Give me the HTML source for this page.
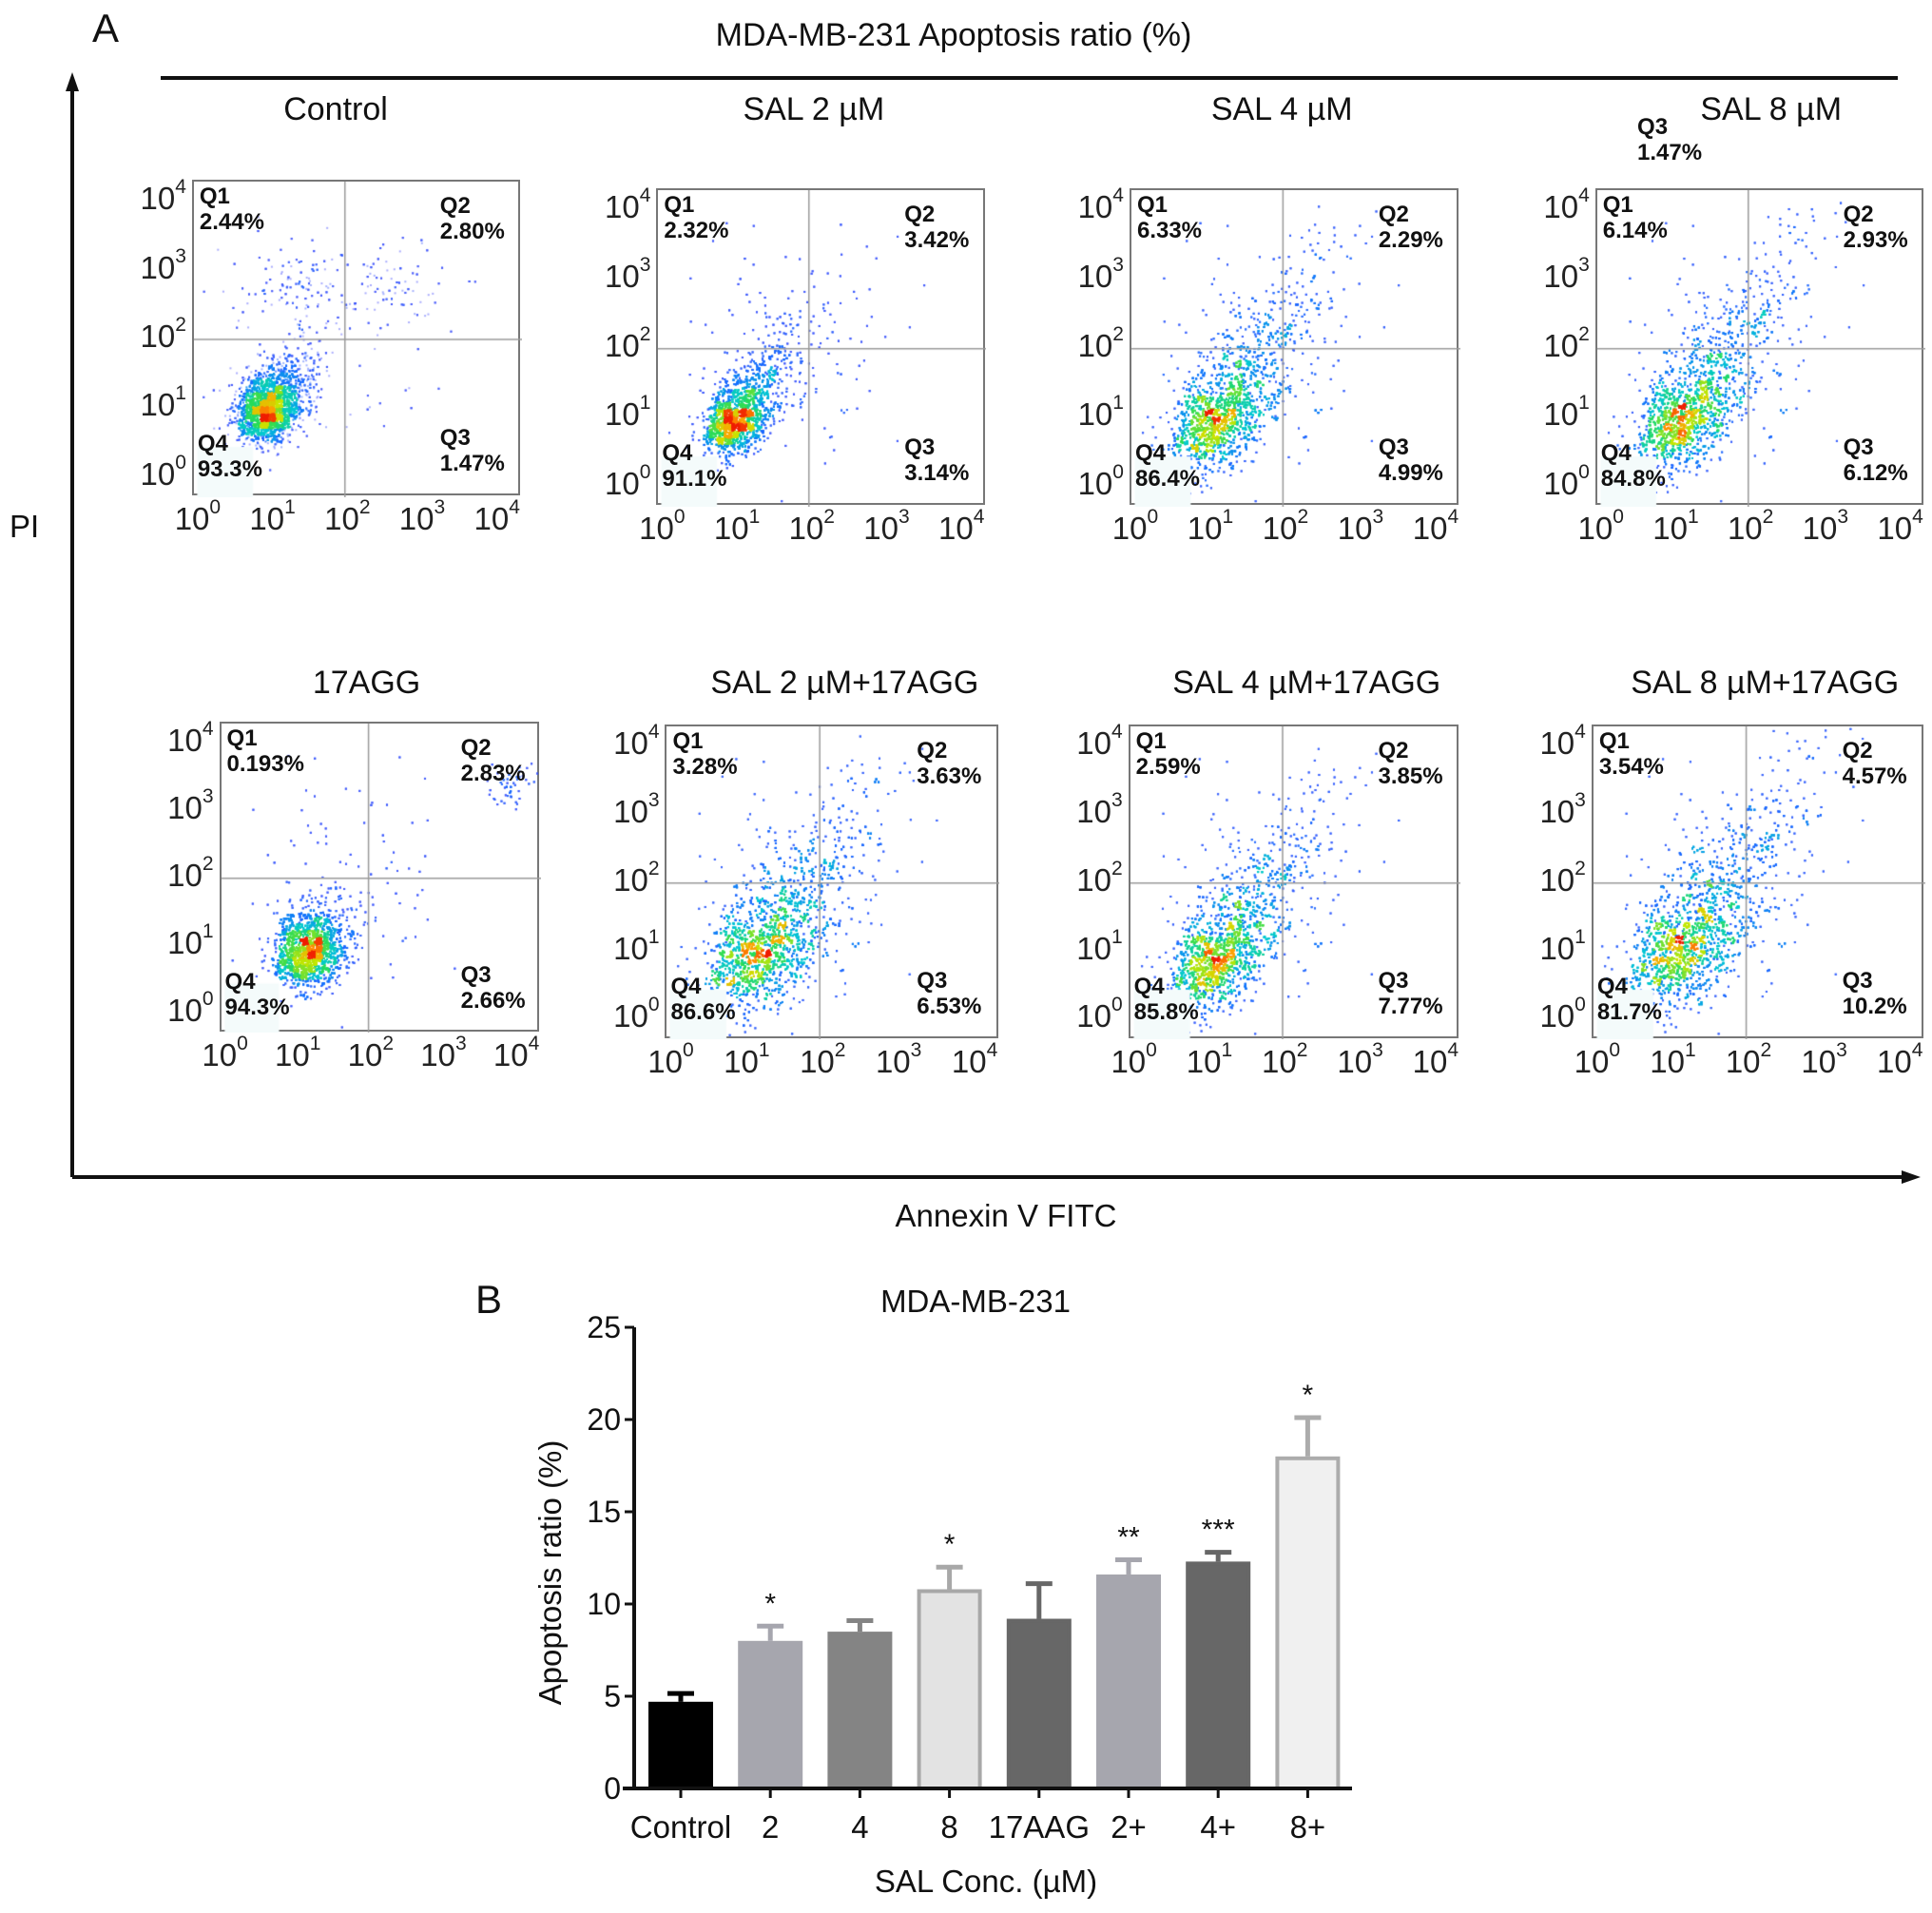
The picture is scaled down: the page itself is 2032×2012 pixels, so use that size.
<!DOCTYPE html>
<html><head><meta charset="utf-8">
<style>
html,body{margin:0;padding:0;background:#fff;}
#root{position:relative;width:2032px;height:2012px;overflow:hidden;font-family:"Liberation Sans",sans-serif;color:#111;}
.t{position:absolute;white-space:nowrap;}
.ql{position:absolute;font-weight:bold;font-size:24px;line-height:27px;color:#111;white-space:nowrap;}
.tk{position:absolute;font-size:33px;white-space:nowrap;color:#222;}
.tk sup{font-size:21px;vertical-align:top;position:relative;top:-5px;}
</style></head><body>
<div id="root">
<div class="t" style="left:97px;top:6px;font-size:42px;">A</div>
<div class="t" style="left:1003px;top:18px;font-size:34px;transform:translateX(-50%);">MDA-MB-231 Apoptosis ratio (%)</div>
<div style="position:absolute;left:169px;top:80px;width:1827px;height:4px;background:#111;"></div>
<svg width="2032" height="1300" style="position:absolute;left:0;top:0">
 <line x1="76" y1="1238" x2="76" y2="90" stroke="#111" stroke-width="4"/>
 <polygon points="76,76 69,96 83,96" fill="#111"/>
 <line x1="76" y1="1238" x2="2005" y2="1238" stroke="#111" stroke-width="4"/>
 <polygon points="2020,1238 2000,1231 2000,1245" fill="#111"/>
</svg>
<div class="t" style="left:10px;top:535px;font-size:33px;">PI</div>
<div class="t" style="left:1058px;top:1260px;font-size:33px;transform:translateX(-50%);">Annexin V FITC</div>

<div class="t" style="left:500px;top:1343px;font-size:42px;">B</div>
<div class="t" style="left:1026px;top:1350px;font-size:33px;transform:translateX(-50%);">MDA-MB-231</div>
<svg id="bars" width="2032" height="2012" style="position:absolute;left:0;top:0"></svg>
</div>
<script>
// ---------- Bar chart data ----------
const categories=["Control","2","4","8","17AAG","2+","4+","8+"];
const means=[4.7,8.0,8.5,10.8,9.2,11.6,12.3,18.0];
const errors=[0.45,0.8,0.6,1.2,1.9,0.8,0.5,2.1];
const stars=["","*","","*","","**","***","*"];
const yTicks=[0,5,10,15,20,25];

const NS="http://www.w3.org/2000/svg";
const root=document.getElementById('root');
const svg=document.getElementById('bars');
function mk(tag,attrs,parent){const e=document.createElementNS(NS,tag);for(const k in attrs)e.setAttribute(k,attrs[k]);(parent||svg).appendChild(e);return e;}
const axX=667, y0=1881, y25=1396, xEnd=1422;
function yS(v){return y0-(v/25)*(y0-y25);}
const x0c=716, stepC=94.2;
function xS(i){return x0c+i*stepC;}
const fills=["#000","#a6a6ae","#848484","#e3e3e3","#676767","#a6a6ae","#676767","#f0f0f0"];
const strokes=["#000","#a6a6ae","#848484","#a8a8a8","#676767","#a6a6ae","#676767","#acacac"];
const bw=68;
categories.forEach((c,i)=>{
  const cx=xS(i), top=yS(means[i]), et=yS(means[i]+errors[i]);
  const eb=mk('line',{x1:cx,y1:top,x2:cx,y2:et,stroke:strokes[i],'stroke-width':5});
  
  
  const cap=mk('line',{x1:cx-14,y1:et,x2:cx+14,y2:et,stroke:strokes[i],'stroke-width':5});
  
  
  const r=mk('rect',{x:cx-bw/2+2,y:top+2,width:bw-4,height:y0-top-2,fill:fills[i],stroke:strokes[i],'stroke-width':4});
  
  
  const tk=mk('line',{x1:cx,y1:y0,x2:cx,y2:y0+10,stroke:'#111','stroke-width':3});
  
  
  const lb=mk('text',{x:cx,y:1933,'font-size':33,'text-anchor':'middle','font-family':'Liberation Sans, sans-serif',fill:'#111'});
  lb.textContent=c;
  
  
  if(stars[i]){
    const s=mk('text',{x:cx,y:et-14,'font-size':30,'text-anchor':'middle','font-family':'Liberation Sans, sans-serif',fill:'#111'});
    s.textContent=stars[i];
    
    
  }
});
const ax=mk('line',{x1:axX,y1:y25,x2:axX,y2:y0,stroke:'#111','stroke-width':4});


const xa=mk('line',{x1:axX-12,y1:y0,x2:xEnd,y2:y0,stroke:'#111','stroke-width':4});


yTicks.forEach(v=>{
  const t=mk('line',{x1:axX-10,y1:yS(v),x2:axX,y2:yS(v),stroke:'#111','stroke-width':3});
  
  
  const l=mk('text',{x:axX-14,y:yS(v)+11,'font-size':32,'text-anchor':'end','font-family':'Liberation Sans, sans-serif',fill:'#111'});
  l.textContent=v;
  
  
});
const yt=mk('text',{x:0,y:0,'font-size':33,'text-anchor':'middle','font-family':'Liberation Sans, sans-serif',fill:'#111',transform:'translate(590,1654) rotate(-90)'});
yt.textContent="Apoptosis ratio (%)";


const xt=mk('text',{x:1037,y:1990,'font-size':33,'text-anchor':'middle','font-family':'Liberation Sans, sans-serif',fill:'#111'});
xt.textContent="SAL Conc. (\u00b5M)";



// ---------- Flow cytometry panels ----------
const S=1.3026;
const plots=[
 {n:'control',b:[155,145,420,400],title:'Control',tx:271,ty:90,q:['2.44%','2.80%','1.47%','93.3%'],c:[0.2,0.75],tail:0.35,sd:0.045,type:'ctrl'},
 {n:'sal-2',b:[530,152,795,408],title:'SAL 2 \u00b5M',tx:657,ty:90,q:['2.32%','3.42%','3.14%','91.1%'],c:[0.2,0.77],tail:0.55,sd:0.045,type:'diag'},
 {n:'sal-4',b:[912,152,1178,408],title:'SAL 4 \u00b5M',tx:1035,ty:90,q:['6.33%','2.29%','4.99%','86.4%'],c:[0.2,0.8],tail:1.0,sd:0.065,type:'diag'},
 {n:'sal-8',b:[1288,152,1553,408],title:'SAL 8 \u00b5M',tx:1430,ty:90,q:['6.14%','2.93%','6.12%','84.8%'],c:[0.2,0.8],tail:1.1,sd:0.065,type:'diag'},
 {n:'17agg',b:[177,583,435,833],title:'17AGG',tx:296,ty:553,q:['0.193%','2.83%','2.66%','94.3%'],c:[0.25,0.76],tail:0.25,sd:0.055,type:'agg'},
 {n:'sal-2-17agg',b:[537,585,806,838],title:'SAL 2 \u00b5M+17AGG',tx:682,ty:553,q:['3.28%','3.63%','6.53%','86.6%'],c:[0.22,0.8],tail:1.0,sd:0.075,type:'diag'},
 {n:'sal-4-17agg',b:[911,585,1178,838],title:'SAL 4 \u00b5M+17AGG',tx:1055,ty:553,q:['2.59%','3.85%','7.77%','85.8%'],c:[0.2,0.82],tail:1.0,sd:0.065,type:'diag'},
 {n:'sal-8-17agg',b:[1285,585,1553,838],title:'SAL 8 \u00b5M+17AGG',tx:1425,ty:553,q:['3.54%','4.57%','10.2%','81.7%'],c:[0.2,0.8],tail:1.2,sd:0.075,type:'diag'}
];
let seed=12345;
function rnd(){seed=(seed*1103515245+12345)%2147483648;return seed/2147483648;}
function gauss(){let u=rnd()||1e-6,v=rnd();return Math.sqrt(-2*Math.log(u))*Math.cos(2*Math.PI*v);}
function cmap(t){
  const stops=[[0,[70,70,250]],[0.25,[20,110,255]],[0.45,[0,200,210]],[0.6,[40,220,90]],[0.75,[200,230,0]],[0.88,[255,160,0]],[1,[240,30,0]]];
  for(let i=1;i<stops.length;i++){if(t<=stops[i][0]){const a=stops[i-1],b=stops[i];const f=(t-a[0])/(b[0]-a[0]);return 'rgb('+a[1].map((v,k)=>Math.round(v+(b[1][k]-v)*f)).join(',')+')';}}
  return 'rgb(240,30,0)';
}
plots.forEach(p=>{
  const L=p.b[0]*S,T=p.b[1]*S,W=(p.b[2]-p.b[0])*S,H=(p.b[3]-p.b[1])*S;
  const box=document.createElement('div');
  
  
  box.style.cssText=`position:absolute;left:${L}px;top:${T}px;width:${W}px;height:${H}px;border:2px solid #777;box-sizing:border-box;`;
  root.appendChild(box);
  const cv=document.createElement('canvas');cv.width=W;cv.height=H;cv.style.cssText='position:absolute;left:0;top:0';
  
  
  box.appendChild(cv);
  const ctx=cv.getContext('2d');
  const pts=[];const N=7000;
  for(let i=0;i<N;i++){
    let x,y;const r=rnd();
    if(p.type==='ctrl'&&r<0.07){x=(rnd()<0.5?0.3:0.6)+gauss()*0.09;y=0.32+gauss()*0.07;}
    else if(p.type==='agg'&&r<0.025){x=0.9+gauss()*0.035;y=0.2+gauss()*0.035;}
    else if(r<0.1){x=0.42+gauss()*0.16;y=0.5+gauss()*0.17;}
    else{
      const tt=Math.abs(gauss())*0.5*p.tail*(rnd()<0.55?1:0.35);
      x=p.c[0]+tt*0.32+gauss()*p.sd;
      y=p.c[1]-tt*0.48+gauss()*p.sd;
    }
    if(x>0.005&&x<0.995&&y>0.005&&y<0.995)pts.push([x,y]);
  }
  const G=45,grid=new Float32Array(G*G);let mx=0;
  pts.forEach(([x,y])=>{const k=Math.floor(y*G)*G+Math.floor(x*G);grid[k]++;if(grid[k]>mx)mx=grid[k];});
  const dv=pts.map(([x,y])=>grid[Math.floor(y*G)*G+Math.floor(x*G)]/mx);
  const idx=pts.map((_,i)=>i).sort((a,b)=>dv[a]-dv[b]);
  idx.forEach(i=>{
    const [x,y]=pts[i];const d=dv[i];
    ctx.fillStyle=cmap(Math.pow(d,0.75));
    ctx.globalAlpha=d<0.12?0.45:0.85;
    ctx.fillRect(x*W,y*H,2,2);
  });
  ctx.globalAlpha=1;
  ctx.strokeStyle='#999';ctx.lineWidth=1.5;
  ctx.beginPath();ctx.moveTo(W*0.46,0);ctx.lineTo(W*0.46,H);ctx.moveTo(0,H*0.5);ctx.lineTo(W,H*0.5);ctx.stroke();
  ctx.fillStyle='#f4fbfb';ctx.fillRect(W*0.01,H*0.84,W*0.17,H*0.16);
  const ql=[['Q1',p.q[0],6,2,'q1'],['Q2',p.q[1],W*0.75,12,'q2'],['Q3',p.q[2],W*0.75,H*0.77,'q3'],['Q4',p.q[3],4,H*0.79,'q4']];
  ql.forEach(a=>{
    const d=document.createElement('div');d.className='ql';
    
    
    d.style.left=a[2]+'px';d.style.top=a[3]+'px';d.innerHTML=a[0]+'<br>'+a[1];box.appendChild(d);
  });
  const t=document.createElement('div');t.className='t';
  
  
  t.style.cssText=`left:${p.tx*S}px;top:${p.ty*S-21}px;font-size:34px;transform:translateX(-50%);`;
  t.textContent=p.title;root.appendChild(t);
  for(let k=0;k<5;k++){
    const y=document.createElement('div');y.className='tk';
    
    
    y.innerHTML='10<sup>'+(4-k)+'</sup>';
    y.style.cssText=`right:${2032-L+6}px;top:${T+H*(0.07+k*0.218)-22}px;`;
    root.appendChild(y);
    const x=document.createElement('div');x.className='tk';
    
    
    x.innerHTML='10<sup>'+k+'</sup>';
    x.style.cssText=`left:${L+W*(k*0.228)+6}px;top:${T+H+6}px;transform:translateX(-50%);`;
    root.appendChild(x);
  }
});
const ex=document.createElement('div');ex.className='ql';


ex.style.left=(1322*S)+'px';ex.style.top=(92*S)+'px';ex.innerHTML='Q3<br>1.47%';root.appendChild(ex);
</script>
</body></html>
